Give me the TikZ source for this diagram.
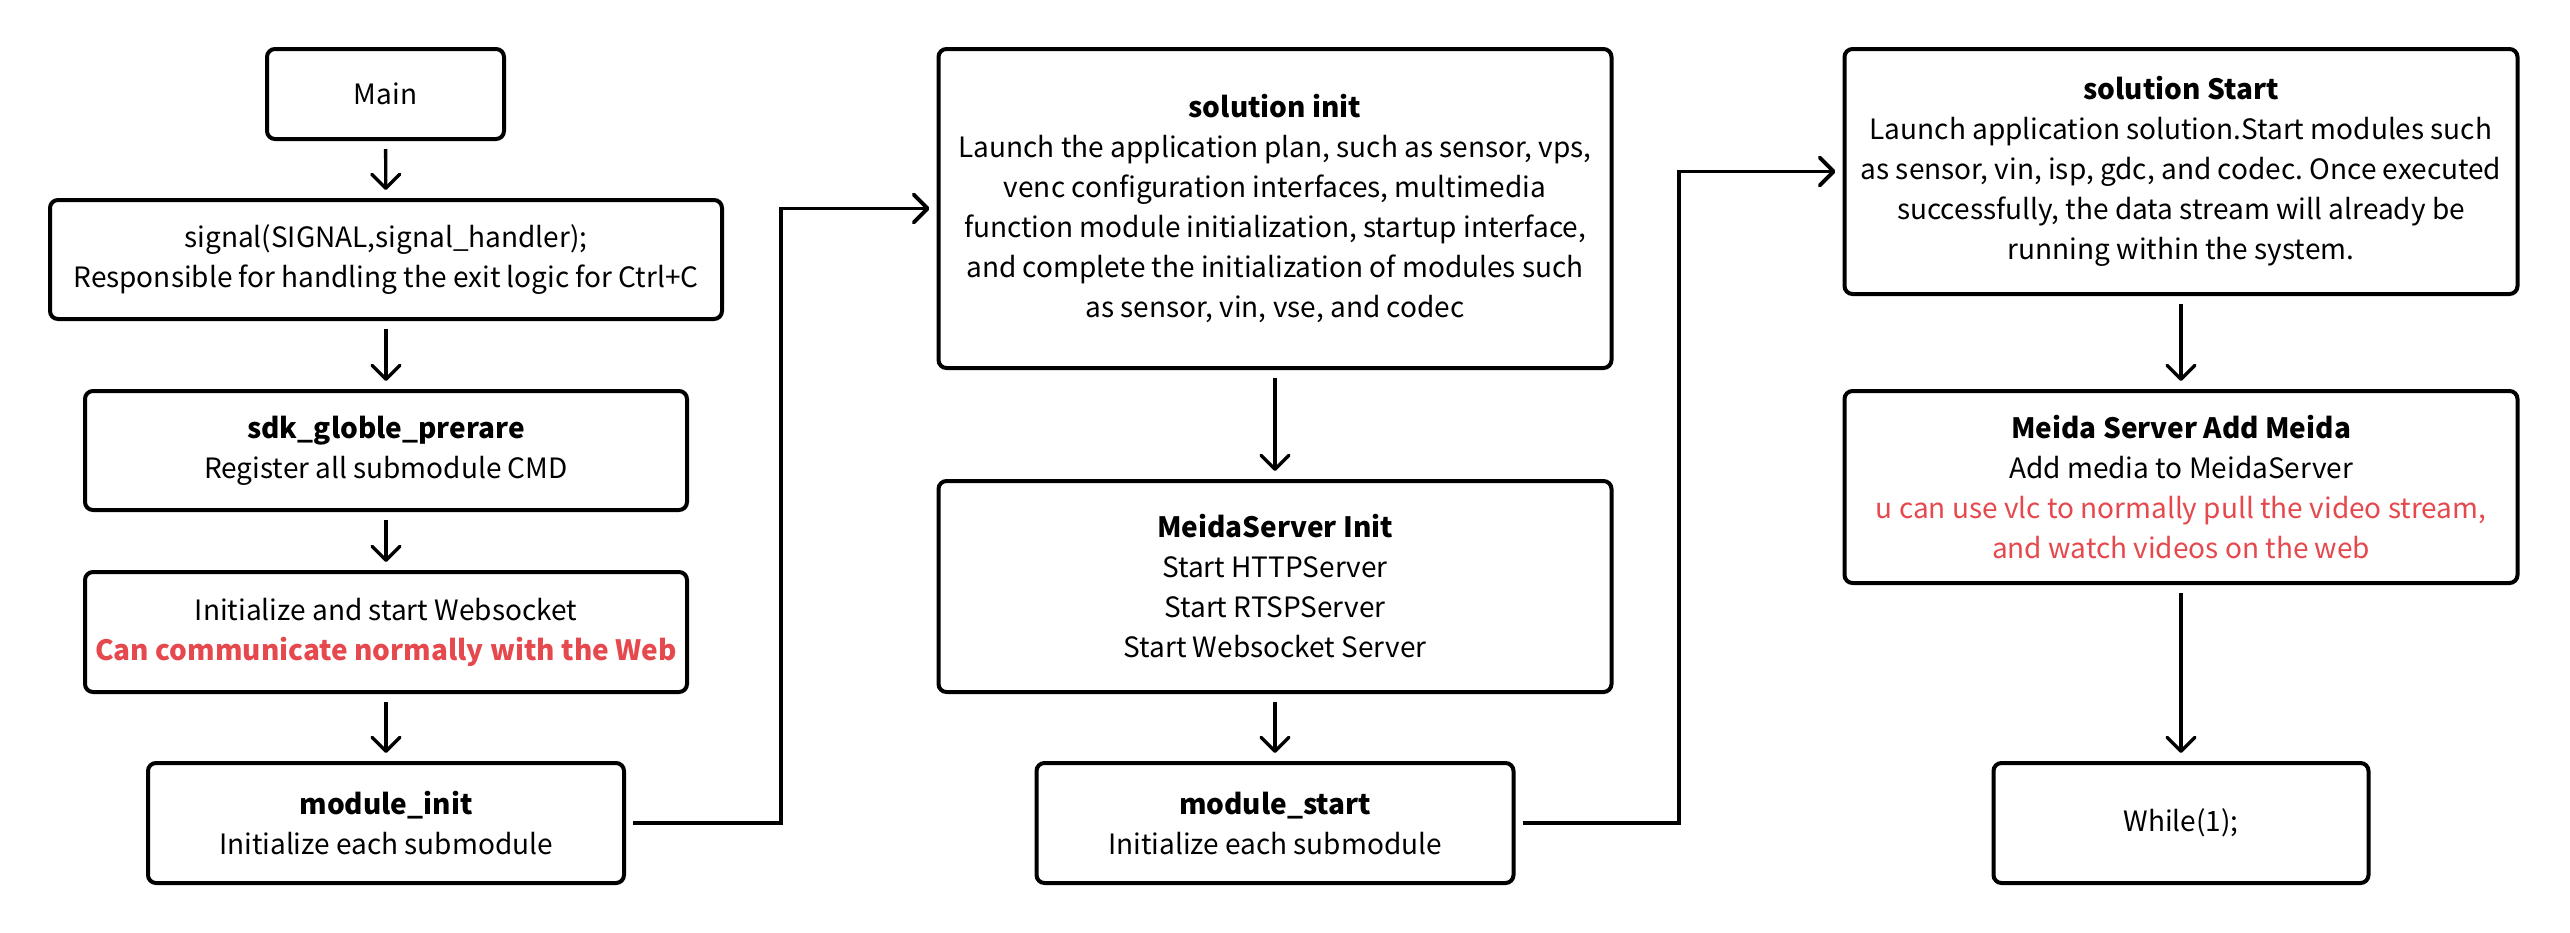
\documentclass[tikz,border=0pt]{standalone}
\usepackage{fontspec}
\setmainfont{Noto Sans CJK SC}
\usepackage{xcolor}
\usetikzlibrary{arrows.meta,positioning,calc}
\definecolor{notered}{HTML}{E5484D}
\frenchspacing

\begin{document}
\begin{tikzpicture}[x=0.5pt, y=-0.5pt,
    every node/.style={font=\fontsize{14}{20}\selectfont},
    flowbox/.style={draw, line width=2pt, rounded corners=4pt, align=center, inner sep=0pt},
    flow/.style={-{Straight Barb[length=7pt, width=14pt, round]}, line width=1.7pt, shorten <=4pt, shorten >=4pt},
    link/.style={-{Straight Barb[length=7pt, width=14pt, round]}, line width=1.9pt, shorten <=3.5pt, shorten >=3.5pt}]
    \useasboundingbox (0,0) rectangle (2570,932);
    % left column
    \node (main) [flowbox, minimum width=118.5pt, minimum height=45pt] at (385.5,94) {Main};
    \node (signal) [flowbox, minimum width=336pt, minimum height=59.5pt] at (386,259.5) {signal(SIGNAL,signal\_handler);\\Responsible for handling the exit logic for Ctrl+C};
    \node (sdk) [flowbox, minimum width=301pt, minimum height=59.5pt] at (386,450.5) {\textbf{sdk\_globle\_prerare}\\Register all submodule CMD};
    \node (websock) [flowbox, minimum width=301pt, minimum height=60pt] at (386,632) {Initialize and start Websocket\\\textcolor{notered}{\textbf{Can communicate normally with the Web}}};
    \node (modinit) [flowbox, minimum width=238pt, minimum height=60pt] at (386,823) {\textbf{module\_init}\\Initialize each submodule};
    % middle column
    \node (solinit) [flowbox, minimum width=336.5pt, minimum height=159.5pt] at (1275,208.5) {\textbf{solution init}\\Launch the application plan, such as sensor, vps,\\venc configuration interfaces, multimedia\\function module initialization, startup interface,\\and complete the initialization of modules such\\as sensor, vin, vse, and codec};
    \node (msinit) [flowbox, minimum width=336.5pt, minimum height=105.5pt] at (1275,586.5) {\textbf{MeidaServer Init}\\Start HTTPServer\\Start RTSPServer\\Start Websocket Server};
    \node (modstart) [flowbox, minimum width=238.5pt, minimum height=60pt] at (1275,823) {\textbf{module\_start}\\Initialize each submodule};
    % right column
    \node (solstart) [flowbox, minimum width=336.5pt, minimum height=122.5pt] at (2181,171.5) {\textbf{solution Start}\\Launch application solution.Start modules such\\as sensor, vin, isp, gdc, and codec. Once executed\\successfully, the data stream will already be\\running within the system.};
    \node (addmedia) [flowbox, minimum width=336.5pt, minimum height=96pt] at (2181,487) {\textbf{Meida Server Add Meida}\\Add media to MeidaServer\\\textcolor{notered}{u can use vlc to normally pull the video stream,}\\\textcolor{notered}{and watch videos on the web}};
    \node (loop) [flowbox, minimum width=187.5pt, minimum height=60pt] at (2181,823) {While(1);};
    % bends of the column links
    \coordinate (bendA) at (781,823);
    \coordinate (bendB) at (1679,823);
    \draw[flow] (main) -- (signal);
    \draw[flow] (signal) -- (sdk);
    \draw[flow] (sdk) -- (websock);
    \draw[flow] (websock) -- (modinit);
    \draw[link] (modinit) -- (bendA) |- (solinit);
    \draw[flow] (solinit) -- (msinit);
    \draw[flow] (msinit) -- (modstart);
    \draw[link] (modstart) -- (bendB) |- (solstart);
    \draw[flow] (solstart) -- (addmedia);
    \draw[flow] (addmedia) -- (loop);
\end{tikzpicture}
\end{document}
